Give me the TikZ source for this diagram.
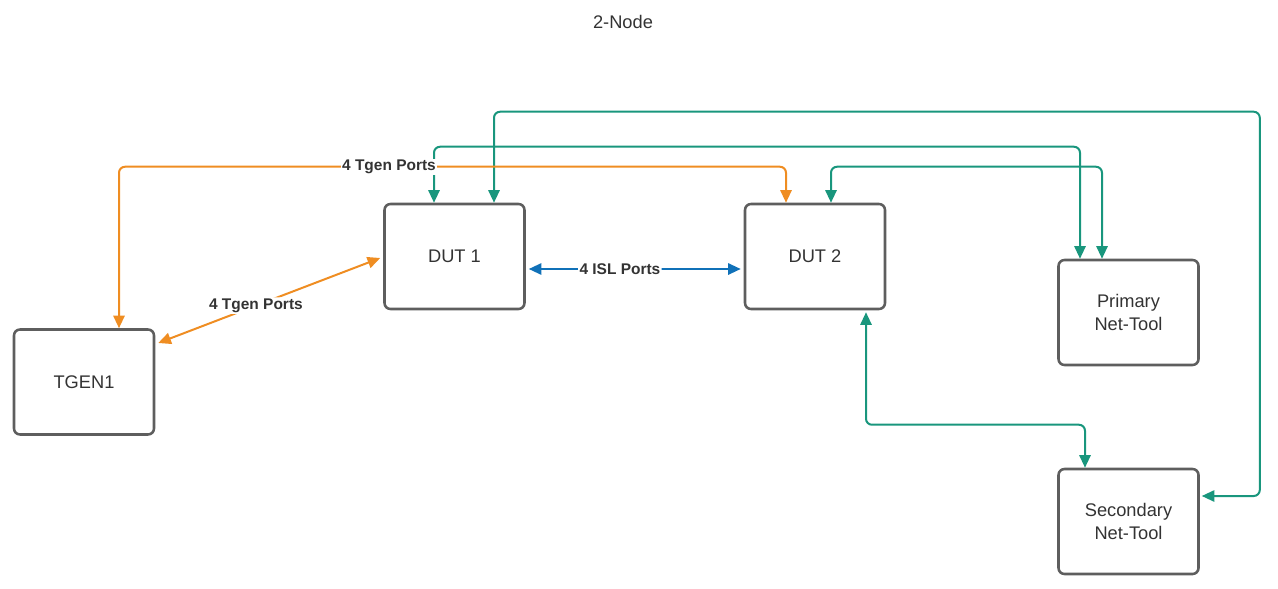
\documentclass[tikz,border=0pt]{standalone}
\usepackage{fontspec}
\setmainfont{Liberation Sans}
\usepackage{tikz}
\usetikzlibrary{arrows.meta}
\usetikzlibrary{positioning}
\usetikzlibrary{calc}
\definecolor{boxgray}{HTML}{5E5E5E}
\definecolor{tgenorange}{HTML}{EF8D22}
\definecolor{netgreen}{HTML}{19967D}
\definecolor{islblue}{HTML}{1071B8}
\tikzstyle{device}=[rectangle,draw=boxgray,line width=1.9pt,rounded corners=4.5pt,
minimum width=105pt,minimum height=78.75pt,align=center,
font=\fontsize{13.7}{17.25}\selectfont,text=black!80]
\tikzstyle{lien}=[{Triangle[length=9.5pt,width=8.5pt]}-{Triangle[length=9.5pt,width=8.5pt]},line width=1.5pt,rounded corners=4.5pt]
\tikzstyle{orangelien}=[lien,draw=tgenorange]
\tikzstyle{greenlien}=[lien,draw=netgreen]
\tikzstyle{bluelien}=[lien,draw=islblue]
\tikzstyle{etiquette}=[fill=white,inner sep=1pt,text=black!80,font=\bfseries\fontsize{11.6}{13}\selectfont]

\begin{document}
\begin{tikzpicture}[x=0.75pt,y=-0.75pt]
\useasboundingbox (0,0) rectangle (1278,589);
\node[font=\fontsize{13.7}{16}\selectfont,text=black!80] (titre) at (623,22) {2-Node};
\node[device] (tgen) at (84,382) {TGEN1};
\node[device] (dut1) at (454.5,256.5) {DUT 1};
\node[device] (dut2) at (815,256.5) {DUT 2};
\node[device] (prim) at (1128.5,312.5) {Primary\\Net-Tool};
\node[device] (sec) at (1128.5,521.5) {Secondary\\Net-Tool};
%Placement des fleches
\draw[greenlien] ($(dut1.north)+(-20.5,0)$) |- ($(prim.north)+(-48.5,-112)$) -- ($(prim.north)+(-48.5,0)$);
\draw[greenlien] ($(dut1.north)+(39.5,0)$) -- ($(dut1.north)+(39.5,-91)$) -| ($(sec.east)+(60,-25.5)$) -- ($(sec.east)+(2,-25.5)$);
\draw[greenlien] ($(dut2.north)+(16,0)$) |- ($(prim.north)+(-26.5,-92)$) -- ($(prim.north)+(-26.5,0)$);
\draw[greenlien] ($(dut2.south)+(51,2)$) |- ($(sec.north)+(-43.5,-43)$) -- ($(sec.north)+(-43.5,0)$);
\draw[orangelien] ($(tgen.north)+(35,0)$) |- ($(dut2.north)+(-29,-36)$) -- ($(dut2.north)+(-29,0)$);
\node[etiquette] (l1) at (389,167) {4 Tgen Ports};
\draw[orangelien] ($(tgen.east)+(3,-39)$) -- ($(dut1.west)+(-3,1.5)$)
  node[etiquette,pos=0.44] (l2) {4 Tgen Ports};
\draw[bluelien] ($(dut1.east)+(3,12.5)$) -- ($(dut2.west)+(-3,12.5)$)
  node[etiquette,pos=0.43] (l3) {4 ISL Ports};
\end{tikzpicture}
\end{document}
